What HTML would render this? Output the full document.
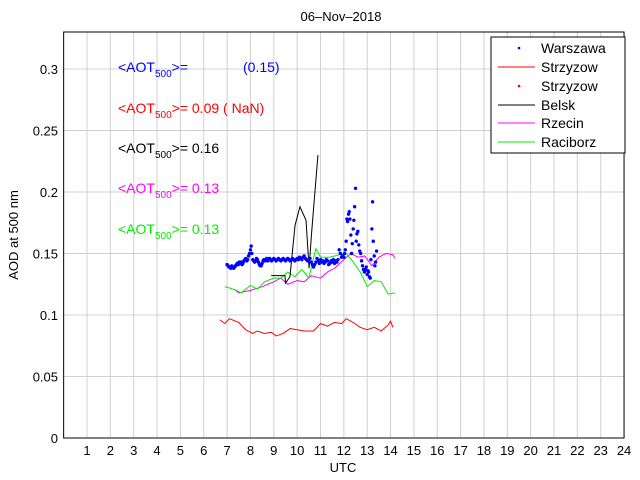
<!DOCTYPE html>
<html><head><meta charset="utf-8"><style>
body{margin:0;background:#fff;}
svg{display:block;font-family:"Liberation Sans",sans-serif;}
</style></head><body>
<svg id="chart" width="640" height="480" viewBox="0 0 640 480">
<text x="341" y="21" font-size="13" text-anchor="middle">06–Nov–2018</text>
<text x="343" y="472" font-size="13" text-anchor="middle">UTC</text>
<text transform="translate(18,235) rotate(-90)" font-size="13" text-anchor="middle">AOD at 500 nm</text>
<g id="grid"></g><g id="ticks"></g><g id="series"></g>
<rect x="63.65" y="32" width="560.4" height="406" fill="none" stroke="#000" stroke-width="1"/>
<g font-size="14">
<text x="118" y="72" fill="#0000ff">&lt;AOT<tspan font-size="10" dy="5">500</tspan><tspan dy="-5">&gt;=</tspan></text>
<text x="243" y="72" fill="#0000ff">(0.15)</text>
<text x="118" y="113" fill="#ff0000">&lt;AOT<tspan font-size="10" dy="5">500</tspan><tspan dy="-5">&gt;= 0.09 ( NaN)</tspan></text>
<text x="118" y="153" fill="#000">&lt;AOT<tspan font-size="10" dy="5">500</tspan><tspan dy="-5">&gt;= 0.16</tspan></text>
<text x="118" y="193" fill="#ff00ff">&lt;AOT<tspan font-size="10" dy="5">500</tspan><tspan dy="-5">&gt;= 0.13</tspan></text>
<text x="118" y="234" fill="#00ee00">&lt;AOT<tspan font-size="10" dy="5">500</tspan><tspan dy="-5">&gt;= 0.13</tspan></text>
</g>
<g>
<rect x="491" y="37" width="134" height="116" fill="#fff" stroke="#000"/>
<g font-size="14">
<circle cx="519" cy="48" r="1.3" fill="#00f"/><text x="541" y="53">Warszawa</text>
<line x1="498" y1="67" x2="535" y2="67" stroke="#f00"/><text x="541" y="72">Strzyzow</text>
<circle cx="519" cy="86" r="1.3" fill="#f00"/><text x="541" y="91">Strzyzow</text>
<line x1="498" y1="105" x2="535" y2="105" stroke="#000"/><text x="541" y="110">Belsk</text>
<line x1="498" y1="123" x2="535" y2="123" stroke="#f0f"/><text x="541" y="128">Rzecin</text>
<line x1="498" y1="142" x2="535" y2="142" stroke="#0e0"/><text x="541" y="147">Raciborz</text>
</g></g>
</svg>
<script>
const xTicks=[1,2,3,4,5,6,7,8,9,10,11,12,13,14,15,16,17,18,19,20,21,22,23,24];
const yTicks=[0,0.05,0.1,0.15,0.2,0.25,0.3];
const yTickLabels=["0","0.05","0.1","0.15","0.2","0.25","0.3"];
const belskT=[8.89,9.48,9.5,9.69,9.91,10.12,10.38,10.51,10.62,10.89];
const belskV=[0.132,0.132,0.126,0.131,0.173,0.188,0.177,0.138,0.167,0.230];
const strzT=[6.7,6.9,7.1,7.5,7.8,8.1,8.3,8.6,8.9,9.1,9.4,9.7,10.0,10.3,10.7,11.0,11.3,11.6,11.9,12.1,12.4,12.7,13.0,13.3,13.6,13.9,14.0,14.1];
const strzV=[0.096,0.093,0.097,0.094,0.088,0.085,0.087,0.085,0.086,0.083,0.085,0.089,0.088,0.087,0.087,0.093,0.091,0.094,0.093,0.097,0.094,0.09,0.088,0.09,0.087,0.092,0.095,0.09];
const rzeT=[7.3,7.5,8.0,8.5,9.0,9.3,9.6,10.0,10.3,10.6,11.0,11.3,11.6,12.0,12.3,12.6,12.9,13.2,13.5,13.8,14.1,14.2];
const rzeV=[0.121,0.118,0.12,0.123,0.127,0.13,0.125,0.128,0.127,0.132,0.13,0.135,0.138,0.145,0.15,0.147,0.148,0.14,0.147,0.15,0.149,0.146];
const racT=[6.9,7.1,7.4,7.6,8.0,8.3,8.6,9.0,9.3,9.6,9.9,10.2,10.5,10.8,11.0,11.4,11.8,12.1,12.4,12.7,13.0,13.3,13.6,13.9,14.2];
const racV=[0.123,0.122,0.12,0.118,0.124,0.121,0.127,0.13,0.13,0.135,0.131,0.137,0.13,0.154,0.147,0.147,0.149,0.15,0.143,0.135,0.123,0.128,0.127,0.117,0.118];
const warT=[7.0,7.04,7.08,7.12,7.16,7.2,7.24,7.28,7.32,7.36,7.4,7.44,7.48,7.52,7.56,7.6,7.64,7.68,7.72,7.76,7.8,7.84,7.88,7.92,7.96,8.0,8.03,8.06,8.1,8.14,8.18,8.22,8.26,8.3,8.34,8.38,8.42,8.46,8.5,8.54,8.58,8.62,8.66,8.7,8.74,8.78,8.82,8.86,8.9,8.95,9.0,9.05,9.1,9.15,9.2,9.25,9.3,9.35,9.4,9.45,9.5,9.55,9.6,9.65,9.7,9.75,9.8,9.85,9.9,9.95,10.0,10.05,10.1,10.15,10.2,10.25,10.3,10.35,10.4,10.45,10.5,10.55,10.6,10.65,10.7,10.75,10.8,10.85,10.9,10.95,11.0,11.05,11.1,11.15,11.2,11.25,11.3,11.35,11.4,11.45,11.5,11.55,11.6,11.65,11.7,11.75,11.8,11.85,11.9,11.95,12.0,12.03,12.06,12.1,12.13,12.16,12.2,12.23,12.26,12.3,12.33,12.36,12.4,12.43,12.46,12.5,12.53,12.56,12.6,12.64,12.68,12.72,12.76,12.8,12.84,12.88,12.92,12.96,13.0,13.03,13.06,13.1,13.13,13.16,13.2,13.23,13.26,13.3,13.33,13.36,13.4];
const warV=[0.141,0.140,0.139,0.139,0.138,0.140,0.139,0.138,0.139,0.140,0.141,0.142,0.141,0.143,0.142,0.143,0.141,0.142,0.144,0.145,0.146,0.144,0.145,0.148,0.150,0.153,0.156,0.150,0.145,0.144,0.143,0.144,0.146,0.145,0.143,0.141,0.140,0.140,0.142,0.144,0.145,0.144,0.145,0.146,0.144,0.145,0.146,0.145,0.144,0.145,0.146,0.145,0.144,0.145,0.146,0.145,0.144,0.145,0.146,0.145,0.144,0.145,0.146,0.145,0.144,0.145,0.146,0.145,0.144,0.145,0.146,0.145,0.147,0.146,0.145,0.147,0.148,0.146,0.145,0.144,0.145,0.146,0.143,0.141,0.139,0.141,0.143,0.146,0.144,0.142,0.145,0.143,0.144,0.142,0.143,0.145,0.144,0.141,0.142,0.144,0.143,0.145,0.142,0.144,0.143,0.145,0.153,0.150,0.147,0.148,0.147,0.150,0.153,0.160,0.178,0.176,0.182,0.184,0.178,0.165,0.150,0.158,0.170,0.177,0.188,0.203,0.160,0.166,0.168,0.157,0.152,0.150,0.144,0.140,0.137,0.135,0.137,0.139,0.133,0.136,0.135,0.131,0.130,0.145,0.170,0.192,0.160,0.148,0.140,0.143,0.152,0.150,0.156];
const X=h=>63.65+23.35*h, Y=v=>438-1230*v;
const NS="http://www.w3.org/2000/svg";
function mk(tag,attrs,parent){const e=document.createElementNS(NS,tag);for(const k in attrs)e.setAttribute(k,attrs[k]);parent.appendChild(e);return e;}
const grid=document.getElementById('grid'),ticks=document.getElementById('ticks'),ser=document.getElementById('series');
xTicks.forEach(t=>{
 const l=mk('line',{x1:X(t),x2:X(t),y1:32,y2:438,stroke:'#d0d0d0'},grid);
 
 
 const tx=mk('text',{x:X(t),y:455,'font-size':13,'text-anchor':'middle'},ticks);tx.textContent=t;
 
 
});
yTicks.forEach((t,i)=>{
 const l=mk('line',{x1:63.65,x2:624,y1:Y(t),y2:Y(t),stroke:'#d0d0d0'},grid);
 
 
 const tx=mk('text',{x:58,y:Y(t)+5,'font-size':13,'text-anchor':'end'},ticks);tx.textContent=yTickLabels[i];
 
 
});
function line(T,V,c,name){const p=mk('polyline',{points:T.map((t,i)=>X(t)+','+Y(V[i])).join(' '),fill:'none',stroke:c,'stroke-width':1},ser);
 
 }
line(strzT,strzV,'#ff0000','strzyzow-line');
line(rzeT,rzeV,'#ff00ff','rzecin-line');
line(racT,racV,'#00ee00','raciborz-line');
line(belskT,belskV,'#000000','belsk-line');
warT.forEach((t,i)=>{const c=mk('circle',{cx:X(t),cy:Y(warV[i]),r:1.7,fill:'#0000ff'},ser);
 
 });
</script>
</body></html>
